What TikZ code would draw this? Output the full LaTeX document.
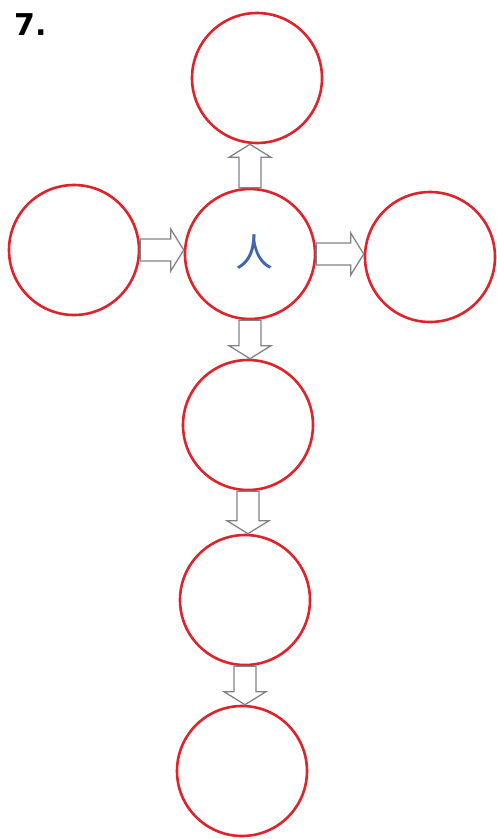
\documentclass[tikz,border=0pt]{standalone}
\usepackage{fontspec}
\setmainfont{DejaVu Sans}
\newfontfamily\cjk{Noto Sans CJK SC}
\usetikzlibrary{calc}
\definecolor{ringred}{RGB}{222,35,45}
\definecolor{arrowgray}{RGB}{128,132,138}
\definecolor{inkblue}{RGB}{62,102,168}

\newcommand{\blockarrow}[2]{%
  \draw[hollow] let \p1=($(#2)-(#1)$), \n1={atan2(\y1,\x1)}, \n2={veclen(\x1,\y1)} in
    [shift={(#1)}, rotate=\n1] (0,-11) -- (\n2-13,-11) -- (\n2-13,-21) -- (\n2,0)
    -- (\n2-13,21) -- (\n2-13,11) -- (0,11) -- cycle;}

\begin{document}
\begin{tikzpicture}[
        x=1pt, y=-1pt,
        ring/.style={circle, draw=ringred, line width=2.6pt, minimum size=130pt, inner sep=0pt},
        hollow/.style={draw=arrowgray, line width=1.3pt, fill=white, line join=miter}
    ]
        \useasboundingbox (0,0) rectangle (497,839);
        \node[font=\bfseries\fontsize{30}{30}\selectfont, inner sep=0pt, anchor=base west] (num) at (14,35) {7.};

        \node[ring] (top) at (257,78) {};
        \node[ring] (mid) at (250,254) {};
        \node[font=\cjk\fontsize{38}{38}\selectfont, text=inkblue, inner sep=0pt] (han) at (254,252) {人};
        \node[ring] (left) at (74,250) {};
        \node[ring] (right) at (430,257) {};
        \node[ring] (low1) at (248,425) {};
        \node[ring] (low2) at (245,600) {};
        \node[ring] (low3) at (242,771) {};

        \blockarrow{mid.north}{mid.north |- top.south}
        \blockarrow{left.east}{left.east -| mid.west}
        \blockarrow{mid.east}{mid.east -| right.west}
        \blockarrow{mid.south}{mid.south |- low1.north}
        \blockarrow{low1.south}{low1.south |- low2.north}
        \blockarrow{low2.south}{low2.south |- low3.north}
    \end{tikzpicture}
\end{document}
